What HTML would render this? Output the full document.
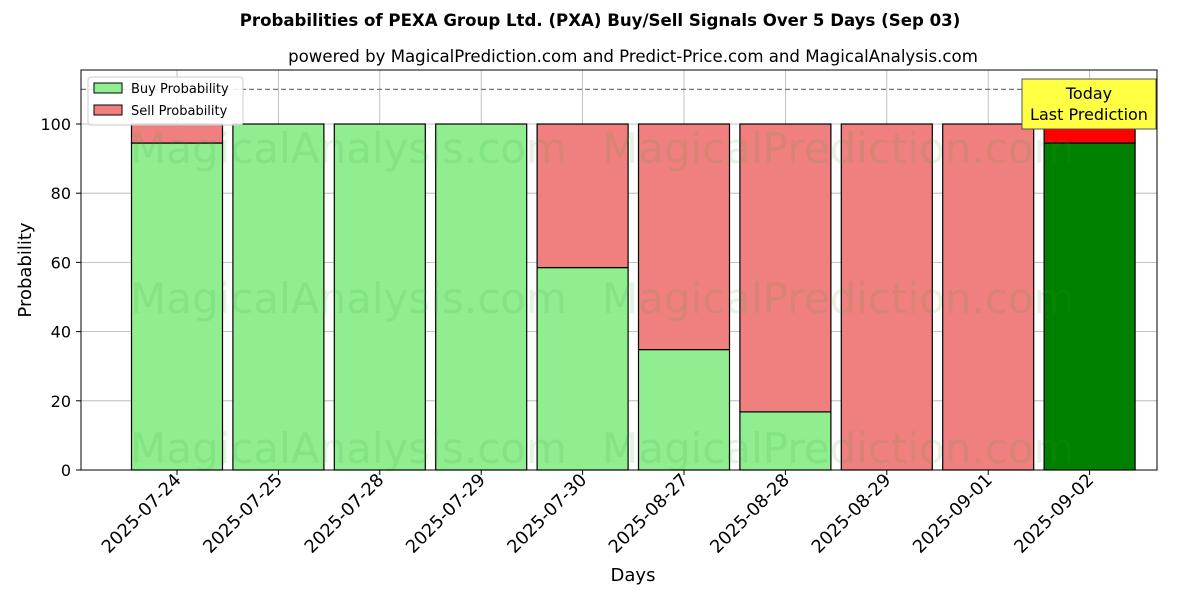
<!DOCTYPE html>
<html><head><meta charset="utf-8"><style>
body{margin:0;background:#fff;font-family:"Liberation Sans","DejaVu Sans",sans-serif;}
svg text{font-family:"DejaVu Sans","Liberation Sans",sans-serif;}
</style></head><body>
<svg id="chart" width="1200" height="600" xmlns="http://www.w3.org/2000/svg">
<rect width="1200" height="600" fill="#fff"/>
<text x="600" y="26" text-anchor="middle" font-size="16.6" font-weight="bold">Probabilities of PEXA Group Ltd. (PXA) Buy/Sell Signals Over 5 Days (Sep 03)</text>
<text x="633" y="62" text-anchor="middle" font-size="16.6">powered by MagicalPrediction.com and Predict-Price.com and MagicalAnalysis.com</text>
<g id="grid"></g>
<g id="bars"></g>
<g id="wm" font-size="42" fill="#2ca02c" fill-opacity="0.13">
<text x="130" y="163">MagicalAnalysis.com</text>
<text x="602" y="163">MagicalPrediction.com</text>
<text x="130" y="313">MagicalAnalysis.com</text>
<text x="602" y="313">MagicalPrediction.com</text>
<text x="130" y="463">MagicalAnalysis.com</text>
<text x="602" y="463">MagicalPrediction.com</text>
</g>
<line x1="81" x2="1157" y1="89.4" y2="89.4" stroke="#777" stroke-dasharray="5,3" stroke-width="1.2"/>
<rect x="81" y="70" width="1076" height="400" fill="none" stroke="#000" stroke-width="1"/>
<g id="axes"></g>
<g>
<rect x="1022" y="79" width="134" height="50" fill="#ffff44" stroke="#555" stroke-width="1"/>
<text x="1089" y="99" text-anchor="middle" font-size="16">Today</text>
<text x="1089" y="120" text-anchor="middle" font-size="16">Last Prediction</text>
</g>
<g>
<rect x="88" y="77" width="155" height="48" fill="#fff" fill-opacity="0.85" stroke="#ccc" rx="3"/>
<rect x="94" y="83" width="28" height="10" fill="#90ee90" stroke="#000"/>
<text x="131" y="93" font-size="13">Buy Probability</text>
<rect x="94" y="105" width="28" height="10" fill="#f08080" stroke="#000"/>
<text x="131" y="115" font-size="13">Sell Probability</text>
</g>
<text x="633" y="581" text-anchor="middle" font-size="18">Days</text>
<text transform="translate(31,270) rotate(-90)" text-anchor="middle" font-size="18">Probability</text>
</svg>
<script>
const categories=["2025-07-24","2025-07-25","2025-07-28","2025-07-29","2025-07-30","2025-08-27","2025-08-28","2025-08-29","2025-09-01","2025-09-02"];
const buyValues=[94.5,100,100,100,58.5,34.8,16.8,0,0,94.5];
const sellValues=[5.5,0,0,0,41.5,65.2,83.2,100,100,5.5];
const yTicks=[0,20,40,60,80,100];
const NS="http://www.w3.org/2000/svg";
const y=v=>470-v*3.46;
const x=i=>177+i*101.4;
const bw=91;
function el(t,a,p){const e=document.createElementNS(NS,t);for(const k in a)e.setAttribute(k,a[k]);p.appendChild(e);return e;}
const grid=document.getElementById('grid'),bars=document.getElementById('bars'),axes=document.getElementById('axes');
yTicks.forEach(v=>{
 const g=el('line',{x1:81,x2:1157,y1:y(v),y2:y(v),stroke:'#b0b0b0','stroke-width':0.8},grid);
 
 
 el('line',{x1:76,x2:81,y1:y(v),y2:y(v),stroke:'#000'},axes);
 const t=el('text',{x:71,y:y(v)+6,'text-anchor':'end','font-size':16},axes);t.textContent=v;
 
 
});
categories.forEach((c,i)=>{
 const g=el('line',{x1:x(i),x2:x(i),y1:70,y2:470,stroke:'#b0b0b0','stroke-width':0.8},grid);
 
 
 const last=i===categories.length-1;
 const b=el('rect',{x:x(i)-bw/2,y:y(buyValues[i]),width:bw,height:buyValues[i]*3.46,fill:last?'#008000':'#90ee90',stroke:'#000','stroke-width':1.2},bars);
 
 
 const s=el('rect',{x:x(i)-bw/2,y:y(buyValues[i]+sellValues[i]),width:bw,height:sellValues[i]*3.46,fill:last?'#ff0000':'#f08080',stroke:'#000','stroke-width':1.2},bars);
 
 
 el('line',{x1:x(i),x2:x(i),y1:470,y2:475,stroke:'#000'},axes);
 const t=el('text',{transform:`translate(${x(i)+5},481) rotate(-45)`,'text-anchor':'end','font-size':17.8},axes);t.textContent=c;
 
 
});
</script>
</body></html>
